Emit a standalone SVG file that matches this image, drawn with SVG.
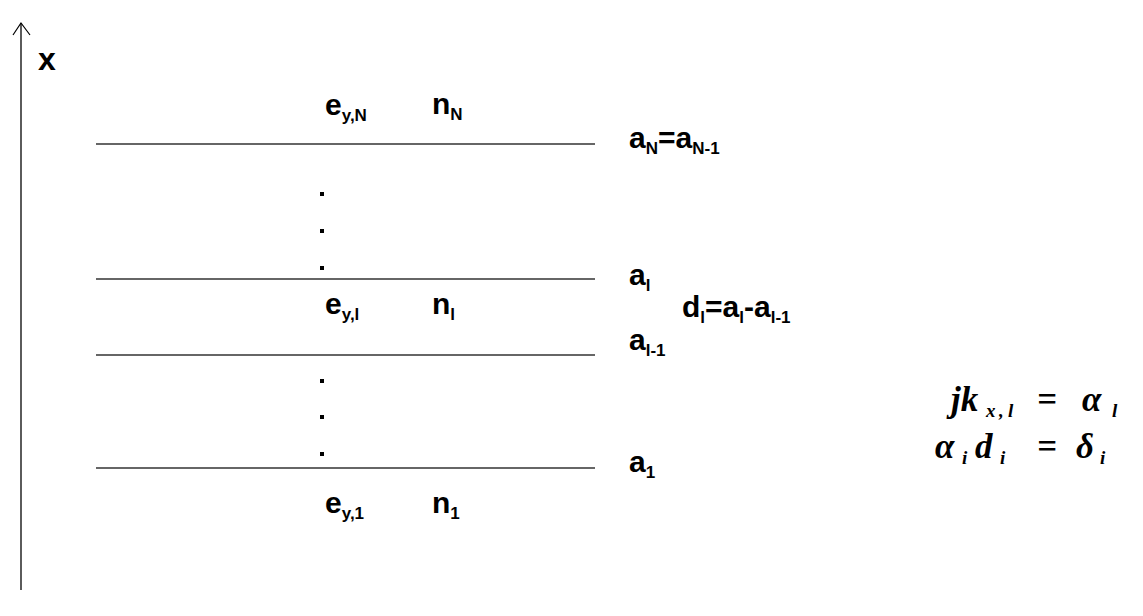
<svg xmlns="http://www.w3.org/2000/svg" width="1143" height="616" viewBox="0 0 1143 616">
<style>
.t{font-family:"Liberation Sans",Arial,sans-serif;font-weight:bold;font-size:30px;fill:#000}
.s{font-size:17px}
.m{font-family:"Liberation Serif","Times New Roman",serif;font-weight:bold;font-style:italic;font-size:35px;fill:#000}
.ms{font-size:19px}
.ln{stroke:#333;stroke-width:1.6;fill:none}
.dot{fill:#000}
</style>
<rect width="1143" height="616" fill="#fff"/>
<g id="axis">
<line class="ln" x1="21" y1="590" x2="21" y2="23" stroke="#000"/>
<polyline points="13,35 21,23 30,35" fill="none" stroke="#000" stroke-width="1.2"/>
<text class="t" x="38" y="70" style="font-size:32px">x</text>
</g>
<g id="connectors">
<line class="ln" x1="96" y1="144" x2="595" y2="144"/>
<line class="ln" x1="96" y1="279" x2="595" y2="279"/>
<line class="ln" x1="96" y1="355" x2="595" y2="355"/>
<line class="ln" x1="96" y1="468" x2="595" y2="468"/>
</g>
<g id="layer-N">
<text class="t" x="325" y="115">e<tspan class="s" dy="6">y,N</tspan></text>
<text class="t" x="432" y="114">n<tspan class="s" dy="6">N</tspan></text>
<text class="t" x="629" y="148">a<tspan class="s" dy="6">N</tspan><tspan dy="-6">=a</tspan><tspan class="s" dy="6">N-1</tspan></text>
</g>
<g id="dots-upper">
<rect class="dot" x="320" y="192" width="4" height="4"/>
<rect class="dot" x="320" y="229" width="4" height="4"/>
<rect class="dot" x="320" y="266" width="4" height="4"/>
</g>
<g id="layer-l">
<text class="t" x="629" y="285">a<tspan class="s" dy="6">l</tspan></text>
<text class="t" x="325" y="314">e<tspan class="s" dy="6">y,l</tspan></text>
<text class="t" x="432" y="314">n<tspan class="s" dy="6">l</tspan></text>
<text class="t" x="682" y="317">d<tspan class="s" dy="6">l</tspan><tspan dy="-6">=a</tspan><tspan class="s" dy="6">l</tspan><tspan dy="-6">-a</tspan><tspan class="s" dy="6">l-1</tspan></text>
<text class="t" x="629" y="350">a<tspan class="s" dy="6">l-1</tspan></text>
</g>
<g id="dots-lower">
<rect class="dot" x="320" y="379" width="4" height="4"/>
<rect class="dot" x="320" y="415" width="4" height="4"/>
<rect class="dot" x="320" y="452" width="4" height="4"/>
</g>
<g id="layer-1">
<text class="t" x="629" y="472">a<tspan class="s" dy="6">1</tspan></text>
<text class="t" x="325" y="513">e<tspan class="s" dy="6">y,1</tspan></text>
<text class="t" x="432" y="513">n<tspan class="s" dy="6">1</tspan></text>
</g>
<g id="equations">
<text class="m" y="411"><tspan x="951">jk</tspan><tspan class="ms" x="986" dy="6">x</tspan><tspan class="ms" x="999">,</tspan><tspan class="ms" x="1008">l</tspan><tspan x="1037" dy="-6">=</tspan><tspan x="1082">α</tspan><tspan class="ms" x="1112" dy="6">l</tspan></text>
<text class="m" y="458"><tspan x="935">α</tspan><tspan class="ms" x="962" dy="6">i</tspan><tspan x="975" dy="-6">d</tspan><tspan class="ms" x="1000" dy="6">i</tspan><tspan x="1037" dy="-6">=</tspan><tspan x="1076">δ</tspan><tspan class="ms" x="1100" dy="6">i</tspan></text>
</g>
</svg>
